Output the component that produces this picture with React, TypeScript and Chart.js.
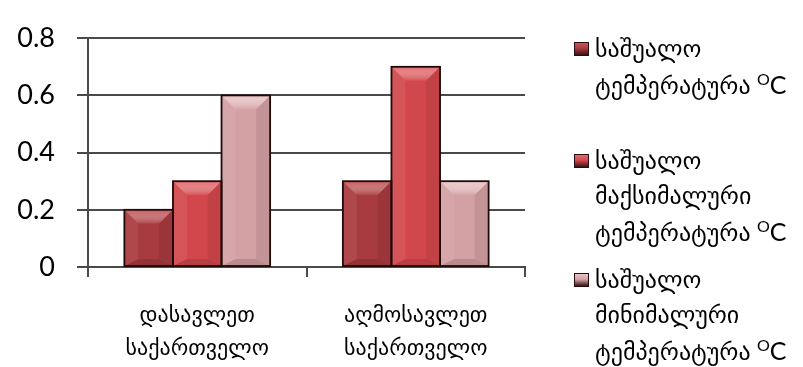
import React, { useEffect, useRef } from "react";
import { Chart, registerables } from "chart.js";

Chart.register(...registerables);

const regions = [
  ["დასავლეთ", "საქართველო"],
  ["აღმოსავლეთ", "საქართველო"],
];
const meanTemp = [0.2, 0.3];
const maxTemp = [0.3, 0.7];
const minTemp = [0.6, 0.3];
const yTickLabels = ["0", "0.2", "0.4", "0.6", "0.8"];

const seriesNames = [
  ["საშუალო", "ტემპერატურა"],
  ["საშუალო", "მაქსიმალური", "ტემპერატურა"],
  ["საშუალო", "მინიმალური", "ტემპერატურა"],
];
const seriesColors = ["#a83b3f", "#d2474b", "#d3a1a4"];
const seriesLight = ["#c9575b", "#e56a6e", "#ecc5c7"];

const GEO_FONT = "'DejaVu Sans', sans-serif";
const NUM_FONT = "Lato, 'Open Sans', sans-serif";
const AXIS_COLOR = "#4a4a4a";

// Draws the bevelled look of each bar: light top facet, shaded sides and bottom.
const bevelPlugin = {
  id: "bevel",
  afterDatasetsDraw(chart: any) {
    const ctx = chart.ctx;
    chart.data.datasets.forEach((ds: any, di: number) => {
      const meta = chart.getDatasetMeta(di);
      meta.data.forEach((bar: any) => {
        const p = bar.getProps(["x", "y", "base", "width"], true);
        const l = p.x - p.width / 2;
        const r = p.x + p.width / 2;
        const t = Math.min(p.y, p.base);
        const b = Math.max(p.y, p.base);
        const bv = Math.min(14, p.width * 0.3, (b - t) / 2);
        ctx.save();
        // top facet
        const g = ctx.createLinearGradient(0, t, 0, t + bv);
        g.addColorStop(0, seriesLight[di]);
        g.addColorStop(1, "rgba(255,255,255,0.05)");
        ctx.fillStyle = g;
        ctx.beginPath();
        ctx.moveTo(l, t);
        ctx.lineTo(r, t);
        ctx.lineTo(r - bv, t + bv);
        ctx.lineTo(l + bv, t + bv);
        ctx.closePath();
        ctx.fill();
        // left facet
        ctx.fillStyle = "rgba(255,255,255,0.07)";
        ctx.beginPath();
        ctx.moveTo(l, t);
        ctx.lineTo(l + bv, t + bv);
        ctx.lineTo(l + bv, b - bv * 0.5);
        ctx.lineTo(l, b);
        ctx.closePath();
        ctx.fill();
        // right facet
        ctx.fillStyle = "rgba(0,0,0,0.08)";
        ctx.beginPath();
        ctx.moveTo(r, t);
        ctx.lineTo(r - bv, t + bv);
        ctx.lineTo(r - bv, b - bv * 0.5);
        ctx.lineTo(r, b);
        ctx.closePath();
        ctx.fill();
        // bottom facet
        ctx.fillStyle = "rgba(0,0,0,0.12)";
        ctx.beginPath();
        ctx.moveTo(l, b);
        ctx.lineTo(l + bv, b - bv * 0.5);
        ctx.lineTo(r - bv, b - bv * 0.5);
        ctx.lineTo(r, b);
        ctx.closePath();
        ctx.fill();
        // outline
        ctx.strokeStyle = "#1f0909";
        ctx.lineWidth = 1.8;
        ctx.strokeRect(l, t, r - l, b - t);
        ctx.restore();
      });
    });
  },
};

export default function App() {
  const canvasRef = useRef<HTMLCanvasElement | null>(null);

  useEffect(() => {
    if (!canvasRef.current) return;
    const chart = new Chart(canvasRef.current, {
      type: "bar",
      data: {
        labels: regions,
        datasets: [meanTemp, maxTemp, minTemp].map((data, i) => ({
          label: seriesNames[i].join(" "),
          data,
          backgroundColor: seriesColors[i],
          borderWidth: 0,
          categoryPercentage: 0.667,
          barPercentage: 1,
        })),
      },
      options: {
        animation: false,
        responsive: false,
        maintainAspectRatio: false,
        layout: { padding: { left: 8, top: 23, right: 278, bottom: 0 } },
        plugins: {
          legend: { display: false },
          tooltip: { enabled: false },
        },
        scales: {
          x: {
            offset: true,
            grid: {
              display: true,
              drawOnChartArea: false,
              tickLength: 10,
              color: AXIS_COLOR,
              lineWidth: 2,
            },
            border: { display: true, color: AXIS_COLOR, width: 2 },
            ticks: {
              color: "#000",
              padding: 23,
              font: { family: GEO_FONT, size: 22, lineHeight: 1.5 },
            },
            afterFit: (s: any) => {
              s.height = 100;
            },
          },
          y: {
            min: 0,
            max: 0.8,
            grid: {
              color: AXIS_COLOR,
              lineWidth: 2,
              tickLength: 11,
            },
            border: { display: true, color: AXIS_COLOR, width: 2 },
            ticks: {
              stepSize: 0.2,
              color: "#000",
              padding: 22,
              font: { family: NUM_FONT, size: 27 },
              callback: (_v: any, i: number) => yTickLabels[i],
            },
            afterFit: (s: any) => {
              s.width = 80;
            },
          },
        },
      },
      plugins: [bevelPlugin],
    });
    return () => chart.destroy();
  }, []);

  const legendTops = [32, 144, 263];

  return (
    <div style={{ position: "fixed", left: 0, top: 0, width: 803, height: 367, background: "#fff" }}>
      <canvas ref={canvasRef} width={803} height={367} style={{ position: "absolute", left: 0, top: 0 }} />
      {seriesNames.map((lines, i) => (
        <div
          key={i}
          style={{
            position: "absolute",
            left: 574,
            top: legendTops[i],
            fontFamily: GEO_FONT,
            fontSize: 24,
            lineHeight: "35px",
            color: "#000",
          }}
        >
          <span
            style={{
              position: "absolute",
              left: 0,
              top: 10,
              width: 15,
              height: 14,
              background: `linear-gradient(180deg, ${seriesLight[i]} 0%, ${seriesColors[i]} 45%, #3a1213 100%)`,
              border: "1px solid #2a0c0d",
              boxSizing: "border-box",
            }}
          />
          <div style={{ marginLeft: 21 }}>
            {lines.map((ln, j) => (
              <div key={j} style={{ whiteSpace: "nowrap", height: 35 }}>
                {ln}
                {j === lines.length - 1 ? (
                  <span style={{ fontFamily: NUM_FONT, fontSize: 25 }}>
                    {" "}
                    <span style={{ fontSize: 16, position: "relative", top: -9 }}>O</span>C
                  </span>
                ) : null}
              </div>
            ))}
          </div>
        </div>
      ))}
    </div>
  );
}
